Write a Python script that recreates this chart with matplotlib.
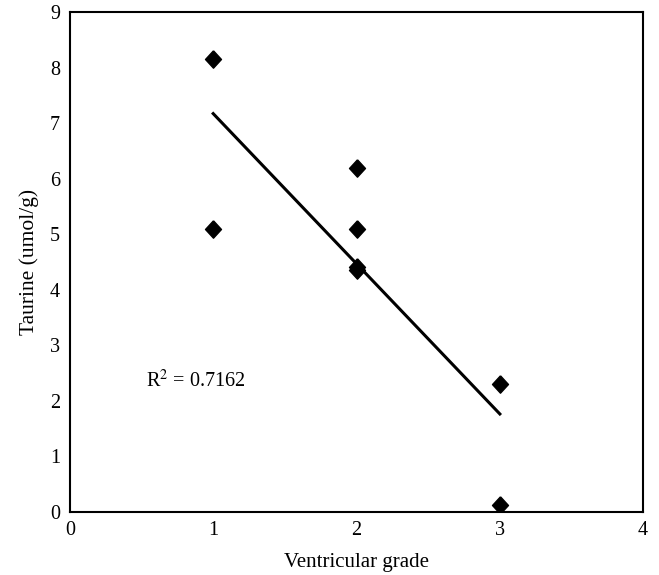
import numpy as np
import matplotlib
matplotlib.use("Agg")
import matplotlib.pyplot as plt

# ventricular grade vs taurine content
grade = [1, 1, 2, 2, 2, 2, 3, 3]
taurine = [8.15, 5.1, 6.2, 5.1, 4.4, 4.35, 2.3, 0.13]
r2_text = "R$^2$ = 0.7162"

plt.rcParams["font.family"] = ["Liberation Serif", "DejaVu Serif"]
plt.rcParams["mathtext.fontset"] = "stix"

fig = plt.figure(figsize=(6.59, 5.75), dpi=100)
ax = fig.add_axes([0.106, 0.11, 0.87, 0.869])

# slightly tall diamond, like the original
diamond = [(0, 1), (0.92, 0), (0, -1), (-0.92, 0), (0, 1)]
ax.plot(grade, taurine, linestyle="none", marker=diamond, markersize=12.5, color="black")

# linear trend line
slope, intercept = np.polyfit(grade, taurine, 1)
xs = np.array([1, 3])
ax.plot(xs, slope * xs + intercept, color="black", linewidth=2.2)

ax.text(0.88, 2.35, r2_text, fontsize=14.5, ha="center", va="center")

ax.set_xlim(0, 4)
ax.set_ylim(0, 9)
ax.set_xticks(range(0, 5))
ax.set_yticks(range(0, 10))
ax.tick_params(length=0, labelsize=14.5, pad=7)
for s in ax.spines.values():
    s.set_linewidth(1.5)
ax.set_xlabel("Ventricular grade", fontsize=15, labelpad=9)
ax.set_ylabel("Taurine (umol/g)", fontsize=15.5, labelpad=8)

fig.savefig("out.png", dpi=100)
